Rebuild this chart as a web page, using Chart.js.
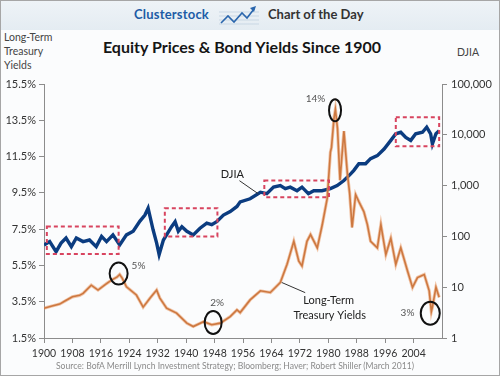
<!DOCTYPE html>
<html><head><meta charset="utf-8">
<script src="https://cdn.jsdelivr.net/npm/chart.js@4.4.1/dist/chart.umd.min.js"></script>
<style>
html,body{margin:0;padding:0;background:#fff;}
#wrap{position:relative;width:500px;height:376px;overflow:hidden;background:#fbfcfd;font-family:Lato,'Open Sans',sans-serif;}
#band{position:absolute;left:1px;top:1px;width:498px;height:29px;background:linear-gradient(#eef3f7,#e4ecf2);}
#frame{position:absolute;left:0;top:0;width:498px;height:374px;border:1px solid #a6a6a6;pointer-events:none;}
.t{position:absolute;white-space:nowrap;}
#cs{left:134px;top:6px;font-size:13px;font-weight:bold;color:#1d5ca6;letter-spacing:0.2px;}
#cod{left:268px;top:6px;font-size:13px;font-weight:bold;color:#333;}
#logo{position:absolute;left:219px;top:4px;}
#title{left:0;width:484px;text-align:center;top:37px;font-size:16px;font-weight:bold;color:#151515;}
#lt{left:4px;top:31px;font-size:10.5px;line-height:13.8px;color:#444;}
#dj{left:457px;top:46px;font-size:10.5px;color:#444;}
#src{left:0;width:470px;text-align:center;top:361px;font-size:8.6px;color:#8a8a8a;}
canvas{position:absolute;left:0;top:0;}
</style></head>
<body><div id="wrap">
<div id="band"></div>
<div class="t" id="cs">Clusterstock</div>
<svg id="logo" width="40" height="24" viewBox="0 0 40 24">
<g stroke="#c9d7e4" stroke-width="1"><line x1="0" y1="8" x2="40" y2="8"/><line x1="0" y1="12" x2="40" y2="12"/><line x1="0" y1="16" x2="40" y2="16"/><line x1="0" y1="20" x2="40" y2="20"/></g>
<polyline points="2,19 9,12 15,18 23,9 28,14 35,5" fill="none" stroke="#2a66ad" stroke-width="1.6"/>
<polygon points="37,2 31,4 35,8" fill="#2a66ad"/>
</svg>
<div class="t" id="cod">Chart of the Day</div>
<div class="t" id="title">Equity Prices &amp; Bond Yields Since 1900</div>
<div class="t" id="lt">Long-Term<br>Treasury<br>Yields</div>
<div class="t" id="dj">DJIA</div>
<canvas id="c" width="500" height="376"></canvas>
<div class="t" id="src">Source: BofA Merrill Lynch Investment Strategy; Bloomberg; Haver; Robert Shiller (March 2011)</div>
<div id="frame"></div>
</div>
<script>
// ---- data ----
const yieldYears = [1900,1902,1904.4,1906,1908,1910,1911,1913.3,1915.2,1917.6,1919,1920.5,1921.3,1922,1923.2,1926,1927.9,1929.8,1931.7,1932.6,1934.5,1937.3,1940.2,1942,1944.9,1947.2,1949.6,1952.4,1954.3,1955.2,1958,1960.9,1963.7,1966.5,1968.4,1970.3,1971.7,1972.6,1974,1975,1976.9,1978.3,1979.7,1980.6,1980.9,1981.6,1982,1982.6,1983.3,1984.4,1985.4,1986,1986.7,1987.7,1988.6,1990,1991,1991.9,1993.8,1994.8,1996.2,1997.6,1999,2000.4,2002.3,2003.7,2005.1,2007,2008.4,2009,2009.3,2010.3,2011.2];
const yieldValues = [3.14,3.25,3.37,3.55,3.77,3.85,3.96,4.41,4.14,4.5,4.69,4.85,5.0,4.8,4.32,3.87,3.2,3.69,4.14,3.7,3.14,2.87,2.32,2.13,2.4,2.23,2.32,2.68,3.05,2.9,3.6,4.1,4.01,4.56,5.56,6.83,5.74,5.47,6.83,7.2,6.47,7.74,9.2,11.75,12.0,13.6,14.1,13.03,10.2,12.9,10.5,9.5,7.6,9.4,9.02,8.47,7.75,6.83,6.47,7.75,6.1,7.0,5.56,6.47,5.19,4.29,4.83,5.0,4.1,2.95,3.2,4.29,3.74];
const djiaYears = [1900,1901.6,1903.4,1904.8,1906.2,1907.7,1909.1,1911,1912.8,1914.7,1916.2,1917.6,1919.4,1921.3,1923.2,1925.1,1927,1928.4,1929.3,1930.7,1931.7,1932.4,1933.6,1934.5,1935.9,1936.9,1937.8,1938.8,1940.2,1942,1943.9,1945.8,1947.2,1948.6,1950.5,1952.4,1954.3,1955.2,1958,1960.9,1962.7,1964.6,1966.5,1967.9,1969.3,1971.2,1972.6,1974.4,1975.9,1978.2,1980.6,1982.5,1984.4,1986.3,1987.2,1988.6,1990.5,1991.9,1993.8,1995.7,1997.6,1999,2000.4,2001.8,2003.2,2004.6,2006.5,2007.7,2008.8,2009.3,2010.3,2011.2];
const djiaValues = [68,79,50,74,93,63,93,79,85,63,100,79,107,68,107,126,200,263,360,135,74,44,85,107,155,195,126,155,126,107,145,182,170,195,263,309,389,479,550,741,692,933,1000,871,933,794,933,692,794,794,871,1000,1259,1698,1995,2692,2692,3388,3890,5248,7762,10471,11220,8913,7762,10471,11220,14125,10471,6607,10471,12023];
const xTickLabels = [1900,1908,1916,1924,1932,1940,1948,1956,1964,1972,1980,1988,1996,2004];
const leftTickLabels = [1.5,3.5,5.5,7.5,9.5,11.5,13.5,15.5];
const rightTickLabels = [1,10,100,1000,10000,100000];

const yieldPts = yieldYears.map((x,i)=>({x, y: yieldValues[i]}));
const djiaPts = djiaYears.map((x,i)=>({x, y: djiaValues[i]}));

// ---- annotations (data coordinates) ----
const boxes = [[1900.8,1921,45,156],[1934,1948.8,100,360],[1962,1980.2,592,1256],[1999,2011.2,5957,22130]];
const circles = [[1921,5.05,9,11],[1947.6,2.35,8.5,11.5],[1981.9,14.05,6,11],[2008.7,2.86,9.5,11.5]];
const circleLabels = [['5%',1926.6,5.5],['2%',1948.7,3.45],['14%',1976.4,14.7],['3%',2002.3,2.87]];

const annot = {
  id:'annot',
  afterDatasetsDraw(chart){
    const {ctx, scales:{x, y, y2}} = chart;
    ctx.save();
    ctx.setLineDash([4,3]);
    ctx.strokeStyle = '#d8445f';
    ctx.lineWidth = 2;
    boxes.forEach(b=>{
      const x1=x.getPixelForValue(b[0]), x2=x.getPixelForValue(b[1]);
      const y1=y2.getPixelForValue(b[3]), yb=y2.getPixelForValue(b[2]);
      ctx.strokeRect(x1,y1,x2-x1,yb-y1);
    });
    ctx.setLineDash([]);
    ctx.strokeStyle = '#111';
    ctx.lineWidth = 2;
    circles.forEach(c=>{
      ctx.beginPath();
      ctx.ellipse(x.getPixelForValue(c[0]), y.getPixelForValue(c[1]), c[2], c[3], 0, 0, Math.PI*2);
      ctx.stroke();
    });
    ctx.fillStyle = '#555';
    ctx.font = '10px Lato';
    ctx.textAlign = 'center';
    ctx.textBaseline = 'middle';
    circleLabels.forEach(l=>ctx.fillText(l[0], x.getPixelForValue(l[1]), y.getPixelForValue(l[2])));
    ctx.strokeStyle = '#333';
    ctx.lineWidth = 1;
    ctx.beginPath();
    ctx.moveTo(x.getPixelForValue(1955.0), y2.getPixelForValue(1250));
    ctx.lineTo(x.getPixelForValue(1960.3), y2.getPixelForValue(690));
    ctx.moveTo(x.getPixelForValue(1966.9), y.getPixelForValue(4.56));
    ctx.lineTo(x.getPixelForValue(1973.5), y.getPixelForValue(4.0));
    ctx.stroke();
    ctx.fillStyle = '#222';
    ctx.font = '11px Lato';
    ctx.fillText('DJIA', x.getPixelForValue(1953), y2.getPixelForValue(1625));
    ctx.fillText('Long-Term', x.getPixelForValue(1980.1), y.getPixelForValue(3.59));
    ctx.fillText('Treasury Yields', x.getPixelForValue(1980.4), y.getPixelForValue(2.77));
    ctx.restore();
  }
};

const axisGrid = {display:true, drawOnChartArea:false, drawTicks:true, tickLength:5, color:'#8c8c8c', lineWidth:1};
const tickFont = {family:'Lato', size:11};

new Chart(document.getElementById('c'), {
  type:'line',
  data:{datasets:[
    {data:yieldPts, yAxisID:'y', borderColor:'rgba(232,150,95,0.55)', borderWidth:3.2, pointRadius:0, tension:0},
    {data:yieldPts, yAxisID:'y', borderColor:'#ad541b', borderWidth:1.6, pointRadius:0, tension:0},
    {data:djiaPts, yAxisID:'y2', borderColor:'#0b3c80', borderWidth:3.4, pointRadius:0, tension:0}
  ]},
  options:{
    responsive:false, animation:false,
    layout:{padding:{top:84,left:0,right:0,bottom:0}},
    plugins:{legend:{display:false}, tooltip:{enabled:false}},
    scales:{
      x:{type:'linear', min:1900, max:2012,
        afterBuildTicks(s){ s.ticks = xTickLabels.map(v=>({value:v})); },
        afterFit(s){ s.height = 38; },
        grid:axisGrid, border:{display:true,color:'#8c8c8c'},
        ticks:{font:{family:'Lato',size:10.5}, color:'#333', padding:4, maxRotation:0, autoSkip:false, callback:v=>String(v)}},
      y:{type:'linear', position:'left', min:1.5, max:15.5,
        afterBuildTicks(s){ s.ticks = leftTickLabels.map(v=>({value:v})); },
        afterFit(s){ s.width = 44; },
        grid:axisGrid, border:{display:true,color:'#8c8c8c'},
        ticks:{font:tickFont, color:'#333', padding:3, callback:v=>v.toFixed(1)+'%'}},
      y2:{type:'logarithmic', position:'right', min:1, max:100000,
        afterBuildTicks(s){ s.ticks = rightTickLabels.map(v=>({value:v})); },
        afterFit(s){ s.width = 58; },
        grid:axisGrid, border:{display:true,color:'#8c8c8c'},
        ticks:{font:tickFont, color:'#333', padding:4, callback:v=>Number(v).toLocaleString('en-US')}}
    }
  },
  plugins:[annot]
});
</script>
</body></html>
